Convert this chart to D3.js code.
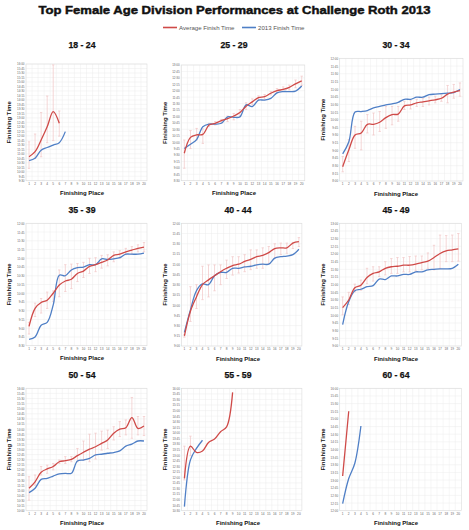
<!DOCTYPE html>
<html>
<head>
<meta charset="utf-8">
<script src="https://cdn.jsdelivr.net/npm/d3@7"></script>
<style>
  body { margin: 0; background: #fff; }
  svg { display: block; font-family: "Liberation Sans", Arial, sans-serif; }
</style>
</head>
<body>
<script>
// divisions, in the order they are laid out (3 x 3)
var divisions = ["18 - 24", "25 - 29", "30 - 34", "35 - 39", "40 - 44", "45 - 49", "50 - 54", "55 - 59", "60 - 64"];
var places = [1, 2, 3, 4, 5, 6, 7, 8, 9, 10, 11, 12, 13, 14, 15, 16, 17, 18, 19, 20];
// y axis min / max of every panel
var yMin = ["9:30", "8:30", "8:00", "8:30", "9:00", "9:00", "10:00", "10:30", "12:00"];
var yMax = ["16:00", "13:00", "12:00", "12:00", "12:00", "13:00", "16:00", "16:00", "16:00"];

// 18 - 24
var avg_18_24 = ["10:50", "11:07", "11:46", "12:30", "13:21", "12:42"];
var lo_18_24 = ["10:11", "10:45", "10:50", "11:37", "11:44", "11:59"];
var hi_18_24 = ["11:40", "12:06", "13:18", "14:13", "15:57", "13:23"];
var t2013_18_24 = ["10:37", "10:45", "11:12", "11:21", "11:29", "11:37", "12:14"];
// 25 - 29
var avg_25_29 = ["9:34", "10:11", "10:17", "10:18", "10:40", "10:44", "10:50", "10:55", "11:01", "11:09", "11:24", "11:34", "11:44", "11:46", "11:54", "12:00", "12:03", "12:08", "12:16", "12:23"];
var lo_25_29 = ["8:59", "9:45", "10:05", "9:57", "10:36", "10:40", "10:45", "10:48", "10:52", "11:01", "11:16", "11:27", "11:38", "11:40", "11:50", "11:55", "11:58", "12:02", "12:07", "12:12"];
var hi_25_29 = ["10:05", "10:27", "10:32", "10:31", "10:44", "10:48", "10:53", "11:01", "11:07", "11:16", "11:32", "11:41", "11:48", "11:51", "11:58", "12:05", "12:09", "12:13", "12:25", "12:34"];
var t2013_25_29 = ["9:45", "9:55", "10:06", "10:36", "10:42", "10:42", "10:44", "10:59", "10:58", "10:59", "11:27", "11:23", "11:38", "11:38", "11:42", "11:55", "11:58", "11:58", "11:59", "12:11"];
// 30 - 34
var avg_30_34 = ["8:28", "9:01", "9:30", "9:34", "9:51", "9:51", "9:55", "10:04", "10:10", "10:11", "10:27", "10:29", "10:33", "10:35", "10:37", "10:39", "10:42", "10:50", "10:54", "10:57"];
var lo_30_34 = ["8:18", "8:38", "9:04", "9:01", "9:34", "9:30", "9:37", "9:43", "9:50", "9:57", "10:20", "10:21", "10:26", "10:26", "10:29", "10:33", "10:36", "10:33", "10:42", "10:46"];
var hi_30_34 = ["8:48", "9:21", "9:47", "9:57", "10:10", "10:13", "10:16", "10:26", "10:26", "10:26", "10:36", "10:38", "10:40", "10:42", "10:44", "10:46", "10:49", "11:07", "11:09", "11:12"];
var t2013_30_34 = ["8:53", "9:17", "10:15", "10:16", "10:18", "10:23", "10:26", "10:29", "10:31", "10:34", "10:40", "10:40", "10:44", "10:44", "10:49", "10:50", "10:51", "10:52", "10:53", "10:59"];
// 35 - 39
var avg_35_39 = ["9:03", "9:34", "9:44", "9:48", "10:00", "10:14", "10:21", "10:24", "10:34", "10:38", "10:46", "10:49", "10:53", "10:57", "11:05", "11:07", "11:11", "11:14", "11:17", "11:19"];
var lo_35_39 = ["8:50", "9:20", "9:26", "9:34", "9:46", "9:54", "10:03", "10:08", "10:20", "10:27", "10:34", "10:37", "10:43", "10:47", "10:54", "11:00", "11:06", "11:07", "11:11", "11:11"];
var hi_35_39 = ["9:10", "9:43", "9:51", "10:02", "10:04", "10:40", "10:49", "10:50", "10:51", "10:53", "11:00", "11:01", "11:05", "11:06", "11:11", "11:13", "11:17", "11:20", "11:23", "11:27"];
var t2013_35_39 = ["8:41", "8:45", "9:05", "9:10", "9:40", "10:31", "10:30", "10:40", "10:44", "10:45", "10:49", "10:49", "10:59", "10:58", "10:59", "11:01", "11:07", "11:07", "11:07", "11:09"];
// 40 - 44
var avg_40_44 = ["9:15", "9:51", "10:12", "10:30", "10:37", "10:43", "10:49", "10:54", "10:58", "11:00", "11:04", "11:07", "11:11", "11:13", "11:17", "11:23", "11:24", "11:24", "11:31", "11:33"];
var lo_40_44 = ["9:13", "9:36", "9:55", "10:08", "10:12", "10:21", "10:30", "10:39", "10:44", "10:47", "10:49", "10:52", "10:54", "10:54", "11:01", "11:09", "11:14", "11:16", "11:23", "11:26"];
var hi_40_44 = ["9:17", "10:27", "10:30", "10:57", "10:59", "10:59", "10:59", "11:06", "11:11", "11:11", "11:14", "11:21", "11:21", "11:24", "11:26", "11:30", "11:31", "11:31", "11:32", "11:39"];
var t2013_40_44 = ["9:20", "9:53", "10:21", "10:31", "10:30", "10:43", "10:48", "10:48", "10:54", "10:54", "10:56", "10:57", "10:59", "11:00", "11:00", "11:09", "11:11", "11:12", "11:14", "11:22"];
// 45 - 49
var avg_45_49 = ["10:15", "10:30", "10:54", "10:59", "11:14", "11:22", "11:25", "11:32", "11:35", "11:36", "11:38", "11:38", "11:40", "11:43", "11:46", "11:53", "12:01", "12:06", "12:08", "12:10"];
var lo_45_49 = ["10:01", "10:21", "10:46", "10:49", "11:02", "11:07", "11:16", "11:19", "11:22", "11:22", "11:25", "11:25", "11:27", "11:29", "11:32", "11:29", "11:32", "11:45", "11:45", "11:46"];
var hi_45_49 = ["10:36", "10:45", "11:01", "11:09", "11:32", "11:35", "11:35", "11:45", "11:51", "11:53", "11:53", "11:55", "11:56", "11:56", "12:02", "12:17", "12:37", "12:36", "12:37", "12:40"];
var t2013_45_49 = ["9:42", "10:27", "10:48", "10:51", "10:56", "10:58", "11:11", "11:10", "11:17", "11:17", "11:20", "11:20", "11:25", "11:25", "11:29", "11:30", "11:31", "11:31", "11:32", "11:40"];
// 50 - 54
var avg_50_54 = ["11:06", "11:25", "11:53", "12:03", "12:10", "12:24", "12:27", "12:31", "12:42", "12:52", "13:01", "13:08", "13:18", "13:28", "13:48", "14:00", "14:04", "14:34", "14:02", "14:09"];
var lo_50_54 = ["10:31", "11:15", "11:45", "11:50", "12:00", "12:19", "12:19", "12:24", "12:24", "12:29", "12:24", "12:32", "12:58", "13:03", "13:28", "13:38", "13:43", "13:33", "13:43", "13:41"];
var hi_50_54 = ["11:40", "11:45", "12:10", "12:14", "12:19", "12:29", "12:39", "12:39", "13:03", "13:25", "13:45", "13:48", "13:54", "13:57", "14:07", "14:22", "14:27", "15:33", "14:37", "14:37"];
var t2013_50_54 = ["10:53", "11:06", "11:32", "11:35", "11:42", "11:48", "11:50", "11:50", "12:26", "12:29", "12:34", "12:44", "12:46", "12:49", "12:51", "12:56", "13:10", "13:16", "13:25", "13:25"];
// 55 - 59
var avg_55_59 = ["11:57", "13:24", "13:07", "13:11", "13:34", "13:43", "14:03", "14:16", "15:49"];
var lo_55_59 = ["11:53", "12:58"];
var hi_55_59 = ["13:24", "13:51"];
var t2013_55_59 = ["10:41", "12:47", "13:18", "13:40"];
// 60 - 64
var avg_60_64 = ["13:08", "15:15"];
var lo_60_64 = [];
var hi_60_64 = [];
var t2013_60_64 = ["12:14", "13:03", "13:33", "14:46"];

var avgs = [avg_18_24, avg_25_29, avg_30_34, avg_35_39, avg_40_44, avg_45_49, avg_50_54, avg_55_59, avg_60_64];
var los = [lo_18_24, lo_25_29, lo_30_34, lo_35_39, lo_40_44, lo_45_49, lo_50_54, lo_55_59, lo_60_64];
var his = [hi_18_24, hi_25_29, hi_30_34, hi_35_39, hi_40_44, hi_45_49, hi_50_54, hi_55_59, hi_60_64];
var t2013s = [t2013_18_24, t2013_25_29, t2013_30_34, t2013_35_39, t2013_40_44, t2013_45_49, t2013_50_54, t2013_55_59, t2013_60_64];

var RED = "#cf4a48", BLUE = "#4f7fc6", ERR = "#f1c6c6", GRID = "#ececec";

// plot rectangles of the panels [left, right, top, bottom] + title / axis title x
var layout = [
    { l: 26, r: 147, t: 64, b: 180.7, tx: 82, ty: 45, yl: 9 },
    { l: 181.2, r: 304.8, t: 65, b: 180.7, tx: 234, ty: 45, yl: 165 },
    { l: 339.6, r: 463, t: 58.4, b: 181, tx: 396, ty: 45, yl: 323 },
    { l: 26, r: 147, t: 223.3, b: 345.7, tx: 82, ty: 210, yl: 9 },
    { l: 181.4, r: 301.9, t: 223.3, b: 346, tx: 238, ty: 210, yl: 165 },
    { l: 339.6, r: 461.4, t: 223.3, b: 346, tx: 396, ty: 210, yl: 323 },
    { l: 26, r: 147, t: 388.3, b: 510.7, tx: 82, ty: 374.5, yl: 9 },
    { l: 181.4, r: 301.9, t: 388.3, b: 510.7, tx: 238, ty: 374.5, yl: 165 },
    { l: 339.6, r: 461.4, t: 388.3, b: 510.7, tx: 396, ty: 374.5, yl: 323 }
];

function toMin(s) { var p = s.split(":"); return +p[0] * 60 + +p[1]; }
function fmt(m) { var h = Math.floor(m / 60), mm = m % 60; return h + ":" + (mm < 10 ? "0" : "") + mm; }

var svg = d3.select("body").append("svg").attr("width", 469).attr("height", 530);

// 标题
svg.append("text")
    .attr("x", 234.5).attr("y", 14)
    .attr("text-anchor", "middle")
    .attr("font-size", 11.5).attr("font-weight", "bold")
    .attr("stroke", "#111").attr("stroke-width", 0.45).attr("fill", "#111")
    .attr("textLength", 392).attr("lengthAdjust", "spacingAndGlyphs")
    .text("Top Female Age Division Performances at Challenge Roth 2013");

// 图例
var legend = [["Average Finish Time", RED, 163], ["2013 Finish Time", BLUE, 242]];
legend.forEach(function (d) {
    svg.append("line").attr("x1", d[2]).attr("x2", d[2] + 14).attr("y1", 27.5).attr("y2", 27.5)
        .attr("stroke", d[1]).attr("stroke-width", 1.6);
    svg.append("text").attr("x", d[2] + 16).attr("y", 29.6).attr("font-size", 6.1).attr("fill", "#555").text(d[0]);
});

divisions.forEach(function (name, i) {
    var L = layout[i];
    var x = d3.scaleBand().domain(places).range([L.l, L.r]);
    var lo = toMin(yMin[i]), hi = toMin(yMax[i]);
    var y = d3.scaleLinear().domain([lo, hi]).range([L.b, L.t]);
    var ticks = d3.range(lo, hi + 1, 15);
    var g = svg.append("g");

    // 网格
    g.selectAll(".hg").data(ticks).enter().append("line")
        .attr("x1", L.l).attr("x2", L.r)
        .attr("y1", function (d) { return y(d); }).attr("y2", function (d) { return y(d); })
        .attr("stroke", GRID).attr("stroke-width", 0.5);
    g.selectAll(".vg").data(places).enter().append("line")
        .attr("x1", function (d) { return x(d); }).attr("x2", function (d) { return x(d); })
        .attr("y1", L.t).attr("y2", L.b)
        .attr("stroke", GRID).attr("stroke-width", 0.5);
    g.append("rect").attr("x", L.l).attr("y", L.t).attr("width", L.r - L.l).attr("height", L.b - L.t)
        .attr("fill", "none").attr("stroke", "#dcdcdc").attr("stroke-width", 0.6);

    // y 轴刻度
    g.append("g")
        .attr("transform", "translate(" + L.l + ",0)")
        .call(d3.axisLeft(y).tickValues(ticks).tickFormat(fmt).tickSize(0).tickPadding(1.5))
        .call(function (a) {
            a.select(".domain").remove();
            a.selectAll("text").attr("font-size", 3).attr("fill", "#666").attr("font-family", "Liberation Sans, Arial, sans-serif");
        });
    // x 轴刻度
    g.append("g")
        .attr("transform", "translate(0," + L.b + ")")
        .call(d3.axisBottom(x).tickSize(0).tickPadding(2))
        .call(function (a) {
            a.select(".domain").remove();
            a.selectAll("text").attr("font-size", 3.2).attr("fill", "#666").attr("font-family", "Liberation Sans, Arial, sans-serif");
        });

    // 误差线
    var errs = los[i].map(function (v, k) { return { p: places[k], lo: toMin(v), hi: toMin(his[i][k]) }; });
    var cx = function (d) { return x(d.p) + x.bandwidth() / 2; };
    var eg = g.selectAll(".err").data(errs).enter().append("g").attr("stroke", ERR).attr("stroke-width", 0.7);
    eg.append("line").attr("x1", cx).attr("x2", cx)
        .attr("y1", function (d) { return y(d.lo); }).attr("y2", function (d) { return y(d.hi); });
    eg.append("line").attr("x1", function (d) { return cx(d) - 1.2; }).attr("x2", function (d) { return cx(d) + 1.2; })
        .attr("y1", function (d) { return y(d.lo); }).attr("y2", function (d) { return y(d.lo); });
    eg.append("line").attr("x1", function (d) { return cx(d) - 1.2; }).attr("x2", function (d) { return cx(d) + 1.2; })
        .attr("y1", function (d) { return y(d.hi); }).attr("y2", function (d) { return y(d.hi); });

    // 平滑曲线
    var line = d3.line()
        .x(function (d) { return x(d.p) + x.bandwidth() / 2; })
        .y(function (d) { return y(d.v); })
        .curve(d3.curveCatmullRom.alpha(0.5));
    [[t2013s[i], BLUE], [avgs[i], RED]].forEach(function (s) {
        var pts = s[0].map(function (v, k) { return { p: places[k], v: toMin(v) }; });
        g.append("path").datum(pts).attr("d", line)
            .attr("fill", "none").attr("stroke", s[1]).attr("stroke-width", 1.3);
    });

    // 标题与轴标题
    g.append("text").attr("x", L.tx).attr("y", L.ty + 3).attr("text-anchor", "middle")
        .attr("font-size", 8.7).attr("font-weight", "bold").attr("stroke", "#111").attr("stroke-width", 0.25)
        .attr("fill", "#111").text(name);
    g.append("text").attr("x", L.tx).attr("y", L.b + 14.5).attr("text-anchor", "middle")
        .attr("font-size", 6).attr("font-weight", "bold").attr("fill", "#111").text("Finishing Place");
    g.append("text")
        .attr("transform", "translate(" + (L.yl + 2) + "," + ((L.t + L.b) / 2) + ") rotate(-90)")
        .attr("text-anchor", "middle")
        .attr("font-size", 6).attr("font-weight", "bold").attr("fill", "#111").text("Finishing Time");
});
</script>
</body>
</html>
